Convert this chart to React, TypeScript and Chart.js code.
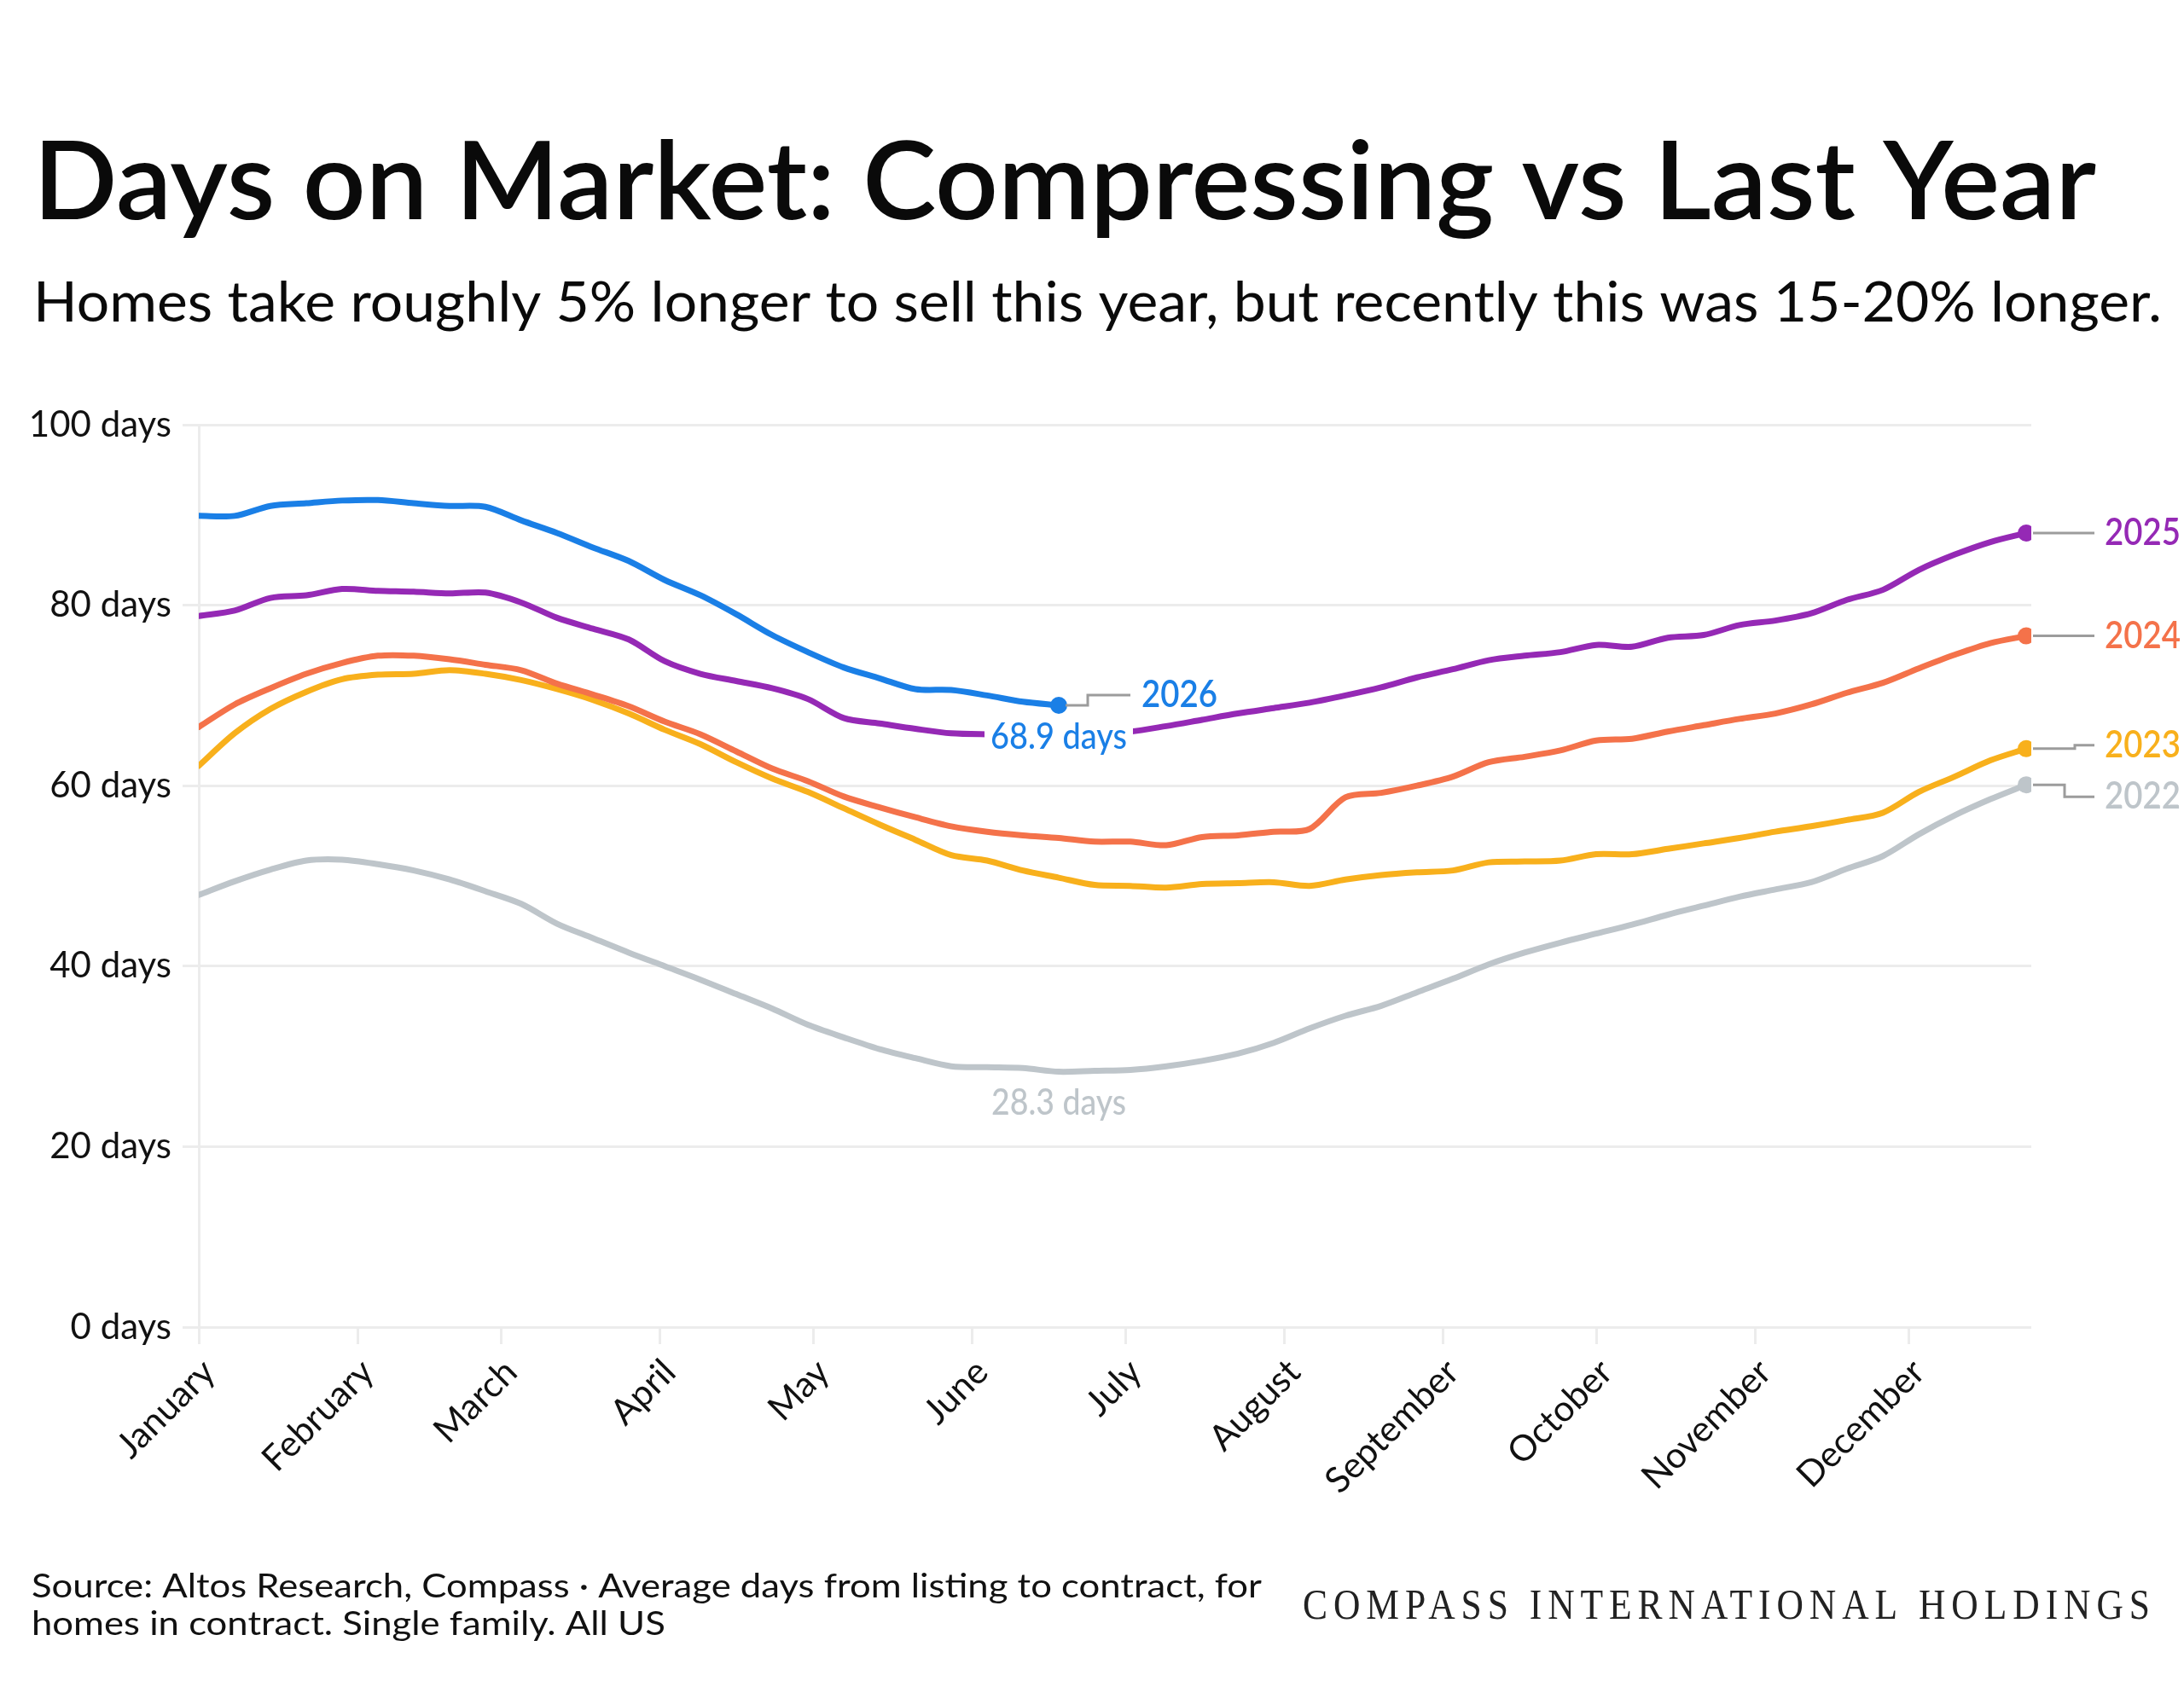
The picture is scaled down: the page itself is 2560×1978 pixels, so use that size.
import React, { useEffect, useRef } from "react";
import { Chart, registerables } from "chart.js";

Chart.register(...registerables);

// ---------- DATA ----------
const WEEK_DAYS = [0, 7, 14, 21, 28, 35, 42, 49, 56, 63, 70, 77, 84, 91, 98, 105, 112, 119, 126, 133, 140, 147, 154, 161, 168, 175, 182, 189, 196, 203, 210, 217, 224, 231, 238, 245, 252, 259, 266, 273, 280, 287, 294, 301, 308, 315, 322, 329, 336, 343, 350, 357];

const MONTH_DAYS = [0, 31, 59, 90, 120, 151, 181, 212, 243, 273, 304, 334];
const MONTH_LABELS = ["January", "February", "March", "April", "May", "June", "July", "August", "September", "October", "November", "December"];

const Y_TICKS = [0, 20, 40, 60, 80, 100];

const SERIES_NAMES = ["2026", "2025", "2024", "2023", "2022"];

const DOM_2026 = [89.9, 89.9, 91.0, 91.3, 91.6, 91.65, 91.3, 91.0, 90.9, 89.4, 88.0, 86.4, 84.9, 82.8, 81.1, 79.0, 76.7, 74.8, 73.1, 71.9, 70.7, 70.6, 70.0, 69.3, 68.9];

const DOM_2025 = [78.8, 79.4, 80.8, 81.1, 81.8, 81.6, 81.5, 81.3, 81.4, 80.3, 78.6, 77.4, 76.2, 73.8, 72.4, 71.6, 70.8, 69.6, 67.5, 66.9, 66.3, 65.8, 65.7, 65.7, 65.8, 65.9, 66.0, 66.6, 67.3, 68.0, 68.6, 69.2, 70.0, 70.9, 72.0, 72.9, 73.9, 74.4, 74.8, 75.6, 75.4, 76.4, 76.7, 77.8, 78.3, 79.1, 80.6, 81.7, 83.9, 85.6, 87.0, 88.0];

const DOM_2024 = [66.5, 69.0, 70.8, 72.4, 73.6, 74.4, 74.4, 74.0, 73.4, 72.8, 71.3, 70.1, 68.8, 67.1, 65.7, 63.8, 61.9, 60.5, 58.8, 57.6, 56.5, 55.5, 54.9, 54.5, 54.2, 53.8, 53.8, 53.4, 54.3, 54.5, 54.9, 55.2, 58.7, 59.2, 60.0, 61.0, 62.6, 63.2, 63.9, 65.0, 65.2, 66.0, 66.7, 67.4, 68.0, 69.0, 70.3, 71.4, 73.0, 74.5, 75.8, 76.6];

const DOM_2023 = [62.2, 65.8, 68.5, 70.4, 71.8, 72.3, 72.4, 72.8, 72.4, 71.7, 70.7, 69.5, 68.0, 66.2, 64.6, 62.6, 60.8, 59.3, 57.5, 55.7, 54.0, 52.3, 51.7, 50.6, 49.8, 49.0, 48.9, 48.7, 49.1, 49.2, 49.3, 48.9, 49.6, 50.1, 50.4, 50.6, 51.5, 51.6, 51.7, 52.4, 52.4, 53.0, 53.6, 54.2, 54.9, 55.5, 56.2, 57.0, 59.3, 61.0, 62.8, 64.1];

const DOM_2022 = [47.9, 49.4, 50.7, 51.7, 51.8, 51.3, 50.6, 49.6, 48.3, 46.9, 44.7, 43.1, 41.5, 40.0, 38.5, 36.9, 35.3, 33.5, 32.1, 30.8, 29.8, 28.9, 28.8, 28.7, 28.3, 28.4, 28.5, 28.9, 29.5, 30.3, 31.5, 33.1, 34.5, 35.6, 37.1, 38.6, 40.2, 41.5, 42.6, 43.6, 44.6, 45.7, 46.7, 47.7, 48.5, 49.3, 50.8, 52.2, 54.6, 56.7, 58.5, 60.1];

const SERIES_VALUES = [DOM_2026, DOM_2025, DOM_2024, DOM_2023, DOM_2022];

const TITLE = "Days on Market: Compressing vs Last Year";
const SUBTITLE = "Homes take roughly 5% longer to sell this year, but recently this was 15-20% longer.";
const SOURCE_1 = "Source: Altos Research, Compass \u00B7 Average days from listing to contract, for";
const SOURCE_2 = "homes in contract. Single family. All US";
const BRAND = "COMPASS INTERNATIONAL HOLDINGS";
const LATEST_LABEL = "68.9 days";
const LOW_2022_LABEL = "28.3 days";

// ---------- STYLE ----------
const COLORS = ["#1a7fe6", "#9529b5", "#f4724a", "#f8b01c", "#bec5ca"];
const GRID = "#ececec";
const CONNECTOR = "#9c9c9c";
const SANS = "Lato, 'Noto Sans', sans-serif";
const INK = "#111111";

function drawText(
  ctx: CanvasRenderingContext2D,
  text: string,
  x: number,
  y: number,
  font: string,
  color: string,
  width?: number,
  align: "left" | "center" | "right" = "left",
  baseline: CanvasTextBaseline = "alphabetic",
  halo?: number
) {
  ctx.save();
  ctx.font = font;
  ctx.textBaseline = baseline;
  ctx.textAlign = "left";
  const w = ctx.measureText(text).width;
  const sx = width ? width / w : 1;
  const tw = w * sx;
  let x0 = x;
  if (align === "center") x0 = x - tw / 2;
  else if (align === "right") x0 = x - tw;
  ctx.translate(x0, y);
  ctx.scale(sx, 1);
  if (halo) {
    ctx.strokeStyle = "#ffffff";
    ctx.lineWidth = halo;
    ctx.lineJoin = "round";
    ctx.strokeText(text, 0, 0);
  }
  ctx.fillStyle = color;
  ctx.fillText(text, 0, 0);
  ctx.restore();
}

const annotationPlugin = {
  id: "annotations",
  afterDatasetsDraw(chart: any) {
    const ctx: CanvasRenderingContext2D = chart.ctx;
    const labelFont = `600 44px ${SANS}`;

    // 2026 latest point
    const m26 = chart.getDatasetMeta(0);
    const p26 = m26.data[m26.data.length - 1];
    ctx.save();
    ctx.strokeStyle = CONNECTOR;
    ctx.lineWidth = 3;
    ctx.beginPath();
    ctx.moveTo(p26.x + 8, p26.y);
    ctx.lineTo(p26.x + 34, p26.y);
    ctx.lineTo(p26.x + 34, p26.y - 12);
    ctx.lineTo(p26.x + 84, p26.y - 12);
    ctx.stroke();
    // white box behind the latest-value label so the 2025 line breaks there
    ctx.fillStyle = "#ffffff";
    ctx.fillRect(p26.x - 87, p26.y + 37 - 16, 174, 32);
    ctx.restore();
    drawText(ctx, SERIES_NAMES[0], p26.x + 97, p26.y - 12, labelFont, COLORS[0], 89, "left", "middle");
    drawText(ctx, LATEST_LABEL, p26.x, p26.y + 37, `500 42px ${SANS}`, COLORS[0], 160, "center", "middle", 10);

    // 2022 low
    const m22 = chart.getDatasetMeta(4);
    const low = m22.data[24];
    drawText(ctx, LOW_2022_LABEL, low.x, low.y + 37, `500 42px ${SANS}`, COLORS[4], 158, "center", "middle");

    // right-hand end labels
    const offsets = [0, 0, 0, -4, 14];
    const elbows = [0, 0, 0, 57, 45];
    for (let i = 1; i < SERIES_NAMES.length; i++) {
      const meta = chart.getDatasetMeta(i);
      const p = meta.data[meta.data.length - 1];
      const endX = chart.chartArea.right + 74;
      ctx.save();
      ctx.strokeStyle = CONNECTOR;
      ctx.lineWidth = 3;
      ctx.beginPath();
      ctx.moveTo(p.x + 8, p.y);
      if (offsets[i] !== 0) {
        ctx.lineTo(p.x + elbows[i], p.y);
        ctx.lineTo(p.x + elbows[i], p.y + offsets[i]);
      }
      ctx.lineTo(endX, p.y + offsets[i]);
      ctx.stroke();
      ctx.restore();
      drawText(ctx, SERIES_NAMES[i], endX + 12, p.y + offsets[i], labelFont, COLORS[i], 89, "left", "middle");
    }
  },
  afterDraw(chart: any) {
    const ctx: CanvasRenderingContext2D = chart.ctx;
    drawText(ctx, TITLE, 39, 257, `600 128px ${SANS}`, "#0a0a0a", 2418);
    drawText(ctx, SUBTITLE, 39, 377, `400 66px ${SANS}`, "#0a0a0a", 2495);
    // footer
    ctx.save();
    ctx.font = `400 39px ${SANS}`;
    const w1 = ctx.measureText(SOURCE_1).width;
    const w2 = ctx.measureText(SOURCE_2).width;
    ctx.restore();
    const sx = 1442 / w1;
    drawText(ctx, SOURCE_1, 37, 1873, `400 39px ${SANS}`, INK, 1442);
    drawText(ctx, SOURCE_2, 37, 1917, `400 39px ${SANS}`, INK, w2 * sx);
    ctx.save();
    try {
      (ctx as any).letterSpacing = "8px";
    } catch (e) {}
    drawText(ctx, BRAND, 1527, 1898, `400 50px 'Liberation Serif', 'DejaVu Serif', serif`, "#222222", 1000);
    ctx.restore();
  },
};

export default function App() {
  const ref = useRef<HTMLCanvasElement | null>(null);

  useEffect(() => {
    const canvas = ref.current;
    if (!canvas) return;
    const datasets = SERIES_NAMES.map((name, i) => {
      const vals = SERIES_VALUES[i];
      const n = vals.length;
      return {
        label: name,
        data: vals.map((v, k) => ({ x: WEEK_DAYS[k], y: v })),
        borderColor: COLORS[i],
        backgroundColor: COLORS[i],
        borderWidth: 7,
        tension: 0.3,
        borderCapStyle: "round" as const,
        borderJoinStyle: "round" as const,
        pointRadius: (c: any) => (c.dataIndex === n - 1 ? 10 : 0),
        pointHoverRadius: 0,
        pointBorderWidth: 0,
        pointBackgroundColor: COLORS[i],
        fill: false,
      };
    });

    const chart = new Chart(canvas, {
      type: "line",
      data: { datasets },
      plugins: [annotationPlugin],
      options: {
        responsive: false,
        devicePixelRatio: 1,
        animation: false,
        events: [],
        layout: { padding: { top: 498, right: 179, bottom: 0, left: 0 } },
        plugins: {
          legend: { display: false },
          tooltip: { enabled: false },
          title: { display: false },
        },
        scales: {
          x: {
            type: "linear",
            min: 0,
            max: 358,
            afterBuildTicks: (s: any) => {
              s.ticks = MONTH_DAYS.map((v) => ({ value: v }));
            },
            afterFit: (s: any) => {
              s.height = 422;
            },
            ticks: {
              autoSkip: false,
              minRotation: 45,
              maxRotation: 45,
              padding: 8,
              labelOffset: 12,
              color: INK,
              font: { family: SANS, size: 42, weight: "normal" },
              callback: (_v: any, idx: number) => MONTH_LABELS[idx],
            },
            grid: {
              drawOnChartArea: false,
              drawTicks: true,
              tickLength: 20,
              color: GRID,
              lineWidth: 3,
            },
            border: { display: false },
          },
          y: {
            min: 0,
            max: 100,
            afterBuildTicks: (s: any) => {
              s.ticks = Y_TICKS.map((v) => ({ value: v }));
            },
            afterFit: (s: any) => {
              s.width = 233;
            },
            ticks: {
              padding: 13,
              color: INK,
              font: { family: SANS, size: 42, weight: "normal" },
              callback: (v: any) => `${v} days`,
            },
            grid: { color: GRID, lineWidth: 3, tickLength: 19 },
            border: { display: true, color: GRID, width: 3 },
          },
        },
      },
    } as any);

    return () => chart.destroy();
  }, []);

  return (
    <div style={{ position: "absolute", left: 0, top: 0, width: 2560, height: 1978, background: "#ffffff" }}>
      <canvas ref={ref} width={2560} height={1978} style={{ display: "block", width: 2560, height: 1978 }} />
    </div>
  );
}
